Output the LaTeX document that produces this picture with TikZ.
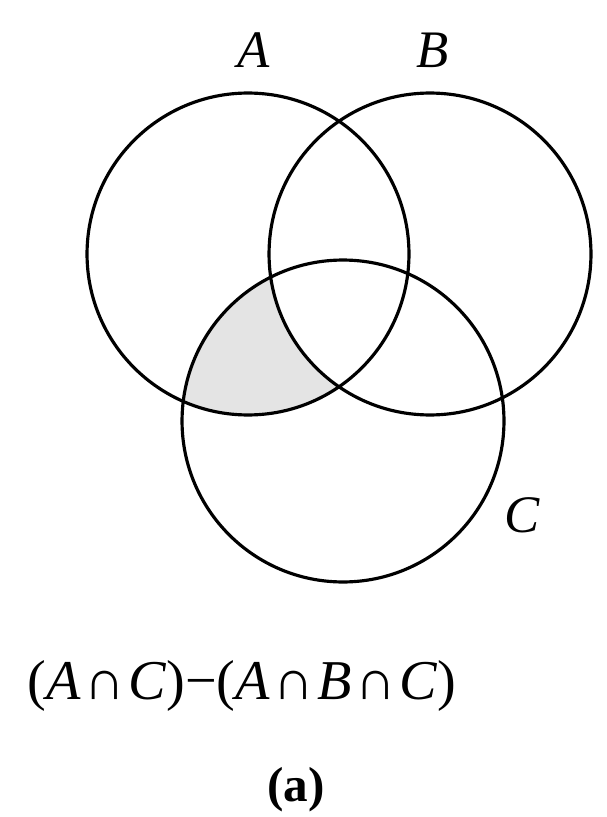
\documentclass[tikz,border=0pt]{standalone}
\usepackage{fontspec}
\setmainfont{Liberation Serif}
\definecolor{ShadeGray}{HTML}{E4E4E4}
\newcommand{\capsym}{\kern2pt∩\kern2pt}

\begin{document}
\begin{tikzpicture}[x=0.02cm, y=-0.02cm,
  set/.style={line width=1.8pt},
  lbl/.style={font=\fontsize{30}{34}\selectfont\itshape, inner sep=0pt},
  caption/.style={font=\fontsize{32}{36}\selectfont, inner sep=0pt}
]
\useasboundingbox (0,0) rectangle (606,817);
\def\rad{3.22cm}
\coordinate (ca) at (248,254);
\coordinate (cb) at (430,254);
\coordinate (cc) at (343,421);
% shaded part: inside A and C, outside B
\begin{scope}
  \clip (ca) circle (\rad);
  \clip (cc) circle (\rad);
  \fill[ShadeGray] (ca) circle (\rad);
  \fill[white] (cb) circle (\rad);
\end{scope}
\draw[set] (ca) circle (\rad);
\draw[set] (cb) circle (\rad);
\draw[set] (cc) circle (\rad);
\node[lbl] (la) at (254,50) {A};
\node[lbl] (lb) at (433,50) {B};
\node[lbl] (lc) at (522,515) {C};
\node[caption] (expr) at (242,686) {(\textit{A}\capsym\textit{C})−(\textit{A}\capsym\textit{B}\capsym\textit{C})};
\node[caption, font=\fontsize{28}{32}\selectfont\bfseries] (tag) at (296,790) {(a)};
\end{tikzpicture}
\end{document}
